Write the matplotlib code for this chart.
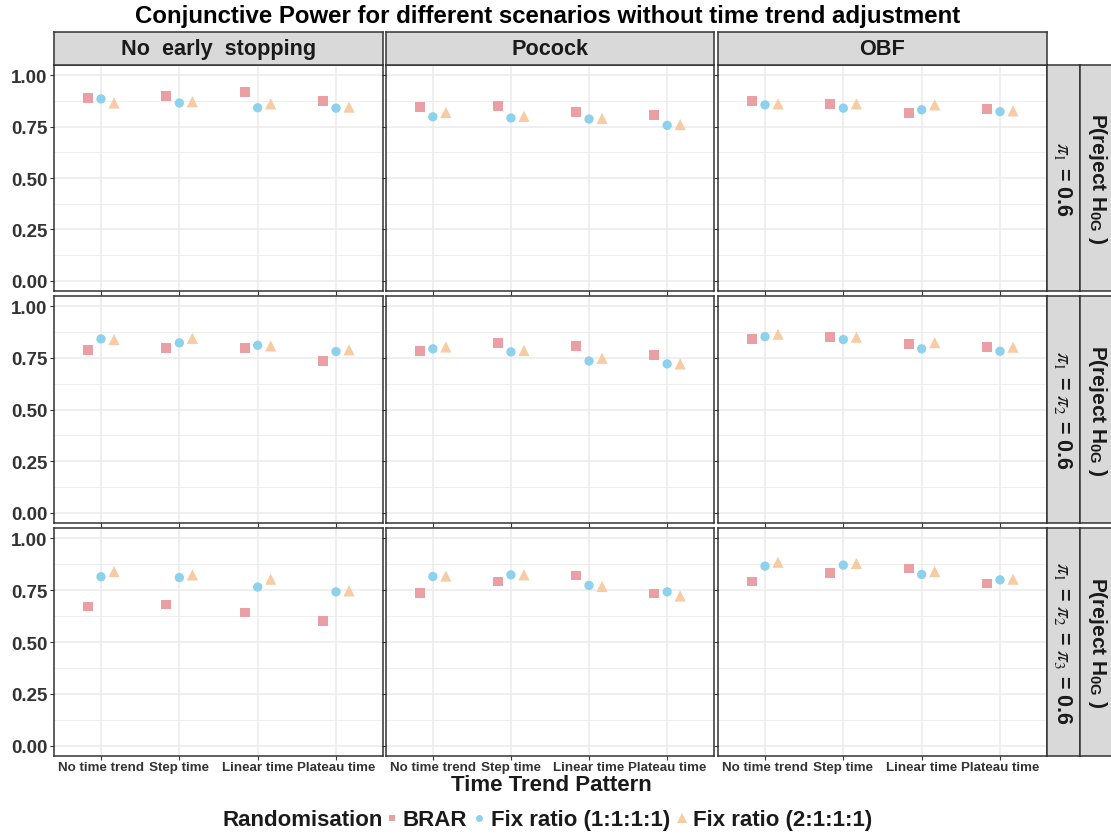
import numpy as np
import matplotlib
matplotlib.use("Agg")
import matplotlib.pyplot as plt
from matplotlib.lines import Line2D

plt.rcParams['font.family'] = ['Liberation Sans', 'DejaVu Sans']
plt.rcParams['mathtext.fontset'] = 'stix'

W, H = 1111, 837

designs = ['No  early  stopping', 'Pocock', 'OBF']
scenario_labels = [r'$\pi_1$ = 0.6', r'$\pi_1$ = $\pi_2$ = 0.6', r'$\pi_1$ = $\pi_2$ = $\pi_3$ = 0.6']
trends = ['No time trend', 'Step time', 'Linear time', 'Plateau time']
methods = ['BRAR', 'Fix ratio (1:1:1:1)', 'Fix ratio (2:1:1:1)']

# power[row][design][trend]
brar = [
    [[0.890, 0.900, 0.919, 0.876], [0.847, 0.852, 0.823, 0.808], [0.876, 0.861, 0.818, 0.837]],
    [[0.787, 0.797, 0.797, 0.734], [0.782, 0.821, 0.806, 0.763], [0.842, 0.850, 0.816, 0.802]],
    [[0.671, 0.681, 0.642, 0.603], [0.738, 0.792, 0.821, 0.734], [0.792, 0.831, 0.855, 0.782]],
]
fix1111 = [
    [[0.885, 0.865, 0.842, 0.840], [0.798, 0.792, 0.787, 0.756], [0.856, 0.840, 0.832, 0.823]],
    [[0.842, 0.823, 0.811, 0.781], [0.794, 0.779, 0.735, 0.721], [0.853, 0.839, 0.794, 0.782]],
    [[0.815, 0.811, 0.765, 0.742], [0.816, 0.824, 0.773, 0.742], [0.866, 0.871, 0.826, 0.800]],
]
fix2111 = [
    [[0.865, 0.871, 0.861, 0.845], [0.819, 0.800, 0.790, 0.760], [0.861, 0.861, 0.856, 0.827]],
    [[0.839, 0.845, 0.808, 0.789], [0.803, 0.786, 0.748, 0.721], [0.865, 0.850, 0.824, 0.802]],
    [[0.840, 0.824, 0.803, 0.747], [0.818, 0.824, 0.768, 0.722], [0.885, 0.879, 0.840, 0.803]],
]

series = [brar, fix1111, fix2111]
colors = ['#E99FA3', '#8DD1EC', '#F7CBA3']
markers = ['s', 'o', '^']
msizes = [50, 45, 65]
legend_sizes = [5, 5, 6.5]
offsets = [-1 / 6, 0, 1 / 6]

col_px = [(54, 383), (386, 714), (718, 1047)]
row_px = [(66, 292), (297, 524), (529, 757)]
strip_top = 33
right_strips = [(1047, 1080), (1080, 1111)]

fig = plt.figure(figsize=(W / 100, H / 100), dpi=100)


def box(x0, y0, x1, y1):
    return [x0 / W, 1 - y1 / H, (x1 - x0) / W, (y1 - y0) / H]


def strip(x0, y0, x1, y1, text, rot=0, size=15):
    s = fig.add_axes(box(x0, y0, x1, y1))
    s.set_facecolor('#D9D9D9')
    s.set_xticks([])
    s.set_yticks([])
    for sp in s.spines.values():
        sp.set_color('#333333')
        sp.set_linewidth(1.1)
    s.text(0.5, 0.5, text, rotation=rot, ha='center', va='center',
           fontsize=size, fontweight='bold', color='#1A1A1A', transform=s.transAxes)
    return s


grid_c = '#EBEBEB'
for r, (y0, y1) in enumerate(row_px):
    for c, (x0, x1) in enumerate(col_px):
        ax = fig.add_axes(box(x0, y0, x1, y1))
        ax.set_xlim(0.4, 4.6)
        ax.set_ylim(-0.05, 1.05)
        ax.set_yticks([0, 0.25, 0.5, 0.75, 1.0])
        ax.set_yticks([0.125, 0.375, 0.625, 0.875], minor=True)
        ax.set_xticks(range(1, 5))
        ax.grid(True, which='major', color=grid_c, lw=1.1, zorder=0)
        ax.grid(True, which='minor', axis='y', color=grid_c, lw=0.6, zorder=0)
        ax.set_axisbelow(True)
        ax.tick_params(which='minor', length=0)
        ax.tick_params(which='major', length=3, width=0.8, color='#333333')
        for sp in ax.spines.values():
            sp.set_color('#333333')
            sp.set_linewidth(1.1)
        x = np.arange(1, 5)
        for k in range(3):
            ax.scatter(x + offsets[k], series[k][r][c], s=msizes[k], marker=markers[k],
                       color=colors[k], edgecolors='none', zorder=3)
        if c == 0:
            ax.set_yticklabels(['0.00', '0.25', '0.50', '0.75', '1.00'],
                               fontsize=13.5, fontweight='bold', color='#333333')
        else:
            ax.set_yticklabels([])
        if r == 2:
            ax.set_xticklabels(trends, fontsize=9.6, fontweight='bold', color='#333333')
        else:
            ax.set_xticklabels([])
        ax.tick_params(axis='y', pad=1.5)
        ax.tick_params(axis='x', pad=0.5)

    strip(right_strips[0][0], y0, right_strips[0][1], y1, scenario_labels[r], rot=-90, size=15.5)
    strip(right_strips[1][0], y0, right_strips[1][1] + 3, y1,
          r'P(reject H$_{\mathregular{0G}}$ )', rot=-90, size=15)

for c, (x0, x1) in enumerate(col_px):
    strip(x0, strip_top, x1, row_px[0][0], designs[c], size=15.6)

fig.text(548 / W, 1 - 17 / H, 'Conjunctive Power for different scenarios without time trend adjustment',
         ha='center', va='center', fontsize=17.3, fontweight='bold')
fig.text(551 / W, 1 - 786 / H, 'Time Trend Pattern', ha='center', va='center',
         fontsize=16, fontweight='bold', color='#1A1A1A')

fig.text(223 / W, 1 - 821 / H, 'Randomisation', ha='left', va='center',
         fontsize=16, fontweight='bold', color='#1A1A1A')
handles = [Line2D([], [], ls='none', marker=markers[k], color=colors[k], markersize=legend_sizes[k],
                  markeredgewidth=0) for k in range(3)]
fig.legend(handles, methods, loc='center left', bbox_to_anchor=(386 / W, 1 - 821 / H),
           ncol=3, frameon=False, handlelength=0.5, handletextpad=0.25, columnspacing=0.3,
           borderaxespad=0, borderpad=0,
           prop={'size': 16, 'weight': 'bold'}, labelcolor='#1A1A1A')

fig.savefig('out.png', dpi=100)
